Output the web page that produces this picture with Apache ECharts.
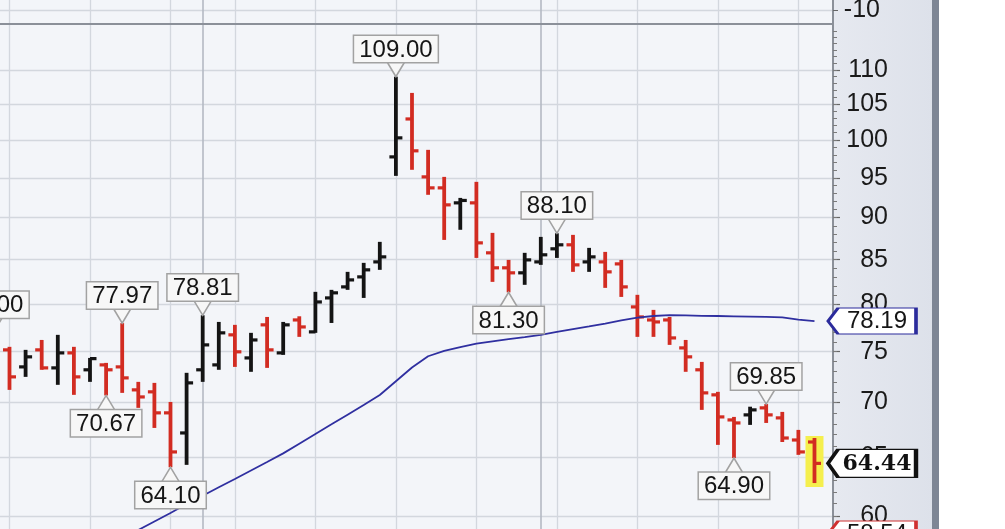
<!DOCTYPE html>
<html><head><meta charset="utf-8">
<script src="https://cdn.jsdelivr.net/npm/echarts@6/dist/echarts.min.js"></script>
<style>html,body{margin:0;padding:0;background:#fff}#c{width:1005px;height:529px}</style>
</head><body><div id="c"></div>
<script>
// ---- data ----
const barIndex = [-1,0,1,2,3,4,5,6,7,8,9,10,11,12,13,14,15,16,17,18,19,20,21,22,23,24,25,26,27,28,29,30,31,32,33,34,35,36,37,38,39,40,41,42,43,44,45,46,47,48,49,50];
const opens  = [72.60,75.19,73.47,75.19,73.37,74.88,73.18,73.67,73.47,71.21,71.02,69.02,67.16,73.18,73.67,76.74,74.37,77.79,74.88,78.31,77.05,80.69,81.91,83.03,84.74,97.74,102.91,95.12,93.71,91.82,91.82,85.79,84.06,83.49,84.74,86.26,86.73,84.74,84.74,84.51,79.71,78.31,78.31,75.39,73.18,70.73,68.36,68.83,69.49,68.55,66.52,66.34];
const highs  = [77.00,75.50,75.19,76.21,76.74,75.50,74.37,73.87,77.97,71.99,71.89,70.05,72.88,78.81,78.10,77.79,76.95,78.63,78.10,78.70,81.36,81.58,83.60,84.63,87.08,109.00,106.62,98.68,95.12,92.44,94.48,88.15,84.97,85.79,87.67,88.10,87.91,86.37,85.90,84.97,81.03,79.39,78.63,76.21,73.97,71.02,68.64,69.60,69.85,69.11,67.44,66.70];
const lows   = [71.90,71.21,72.48,73.18,71.70,70.73,71.99,70.67,70.92,69.49,67.62,64.10,64.31,71.99,73.18,73.47,72.98,73.37,74.68,76.53,76.95,77.99,81.58,80.69,83.83,95.25,96.04,92.83,87.31,88.52,85.20,82.47,81.30,82.14,84.40,85.20,83.60,83.60,81.80,80.80,76.53,76.53,75.70,72.98,69.30,66.08,64.90,67.90,68.08,66.34,65.19,62.74];
const closes = [73.36,72.48,74.48,73.37,74.88,72.48,74.30,73.18,72.38,70.53,69.02,65.45,71.89,75.70,76.95,74.99,76.21,75.19,77.79,77.57,80.25,81.25,82.69,83.83,85.32,100.30,98.55,93.71,91.57,92.12,86.96,84.06,83.49,84.97,85.56,86.73,84.40,85.32,83.60,81.91,78.63,78.10,76.42,74.48,70.92,68.64,68.08,69.30,68.83,66.70,65.45,64.44];

const maIndex  = [6,7,8,9,10,11,12,13,14,15,16,17,18,19,20,21,22,23,24,25,26,27,28,29,30,31,32,33,34,35,36,37,38,39,40,41,42,43,44,45,46,47,48,49,50];
const maValues = [57.53,58.18,58.86,59.55,60.24,60.98,61.67,62.38,63.09,63.82,64.56,65.32,66.19,67.07,67.95,68.85,69.76,70.72,72.05,73.41,74.54,75.08,75.47,75.82,76.07,76.29,76.51,76.74,77.04,77.33,77.62,77.93,78.26,78.56,78.73,78.83,78.79,78.75,78.73,78.70,78.67,78.64,78.58,78.35,78.19];

const highMarks = [-1,7,12,24,34,47];   // bar indices with a high callout
const lowMarks  = [6,10,31,45];         // bar indices with a low callout
const priceTicks = [60,65,70,75,80,85,90,95,100,105,110];
const minorTicks = [];
for (let v = 57; v <= 117; v++) minorTicks.push(v);
const topPanelTicks = [-10];
const weekLines  = [0,5,10,14,19,24,29,34,39,44,49];
const monthLines = [12,33];
const refLevel = 58.54;

// ---- layout ----
const XMIN = -1.832, XMAX = 51.15;
const YMIN = 57.36, YMAX = 116.93;
const RED = '#d22c22', BLACK = '#141414';
const FONT = 'Liberation Sans';

const pos = i => barIndex.indexOf(i);
const ohlc = barIndex.map((x, k) => [x, opens[k], highs[k], lows[k], closes[k]]);
const lastIdx = ohlc.length - 1;

const boxLabel = {
  show: true, distance: -1,
  formatter: p => Number(p.value).toFixed(2),
  fontFamily: FONT, fontSize: 24, lineHeight: 24, color: '#151515',
  backgroundColor: '#f7f7f7', borderColor: '#a2a2a2', borderWidth: 1.5,
  padding: [2, 5, 0, 5]
};
const pointerStyle = { color: '#f7f7f7', borderColor: '#a2a2a2', borderWidth: 1.5 };

const callouts = [];
highMarks.forEach(i => {
  const k = pos(i);
  callouts.push({ coord: [i, highs[k]], value: highs[k],
    symbol: 'path://M0,0L9,15L18,0Z', symbolSize: [18, 15], symbolOffset: [0, -7.5],
    itemStyle: pointerStyle, label: Object.assign({}, boxLabel, { position: 'top' }) });
});
lowMarks.forEach(i => {
  const k = pos(i);
  callouts.push({ coord: [i, lows[k]], value: lows[k],
    symbol: 'path://M0,15L9,0L18,15Z', symbolSize: [18, 15], symbolOffset: [0, 7.5],
    itemStyle: pointerStyle, label: Object.assign({}, boxLabel, { position: 'bottom' }) });
});
const TAG = 'path://M0,13L10,0L88,0L88,26L10,26Z';
callouts.push({ coord: [XMAX, maValues[maValues.length - 1]], value: maValues[maValues.length - 1],
  symbol: TAG, symbolSize: [88, 26], symbolOffset: [39, 0],
  itemStyle: { color: '#ffffff', borderColor: '#2b2b9c', borderWidth: 2 },
  label: { show: true, position: 'inside', offset: [5, 0], formatter: p => Number(p.value).toFixed(2),
    fontFamily: FONT, fontSize: 24, color: '#151515' } });
callouts.push({ coord: [XMAX, closes[lastIdx]], value: closes[lastIdx],
  symbol: TAG, symbolSize: [88, 28], symbolOffset: [39, 0],
  itemStyle: { color: '#ffffff', borderColor: '#111111', borderWidth: 2.5 },
  label: { show: true, position: 'inside', offset: [5, 1], formatter: p => Number(p.value).toFixed(2),
    fontFamily: 'DejaVu Serif', fontWeight: 'bold', fontSize: 22, color: '#111' } });
callouts.push({ coord: [XMAX, refLevel], value: refLevel,
  symbol: TAG, symbolSize: [88, 26], symbolOffset: [39, 0],
  itemStyle: { color: '#ffffff', borderColor: '#d03030', borderWidth: 2 },
  label: { show: true, position: 'inside', offset: [5, 0], formatter: p => Number(p.value).toFixed(2),
    fontFamily: FONT, fontSize: 24, color: '#151515' } });

const gridLine = { show: true, lineStyle: { color: '#d3d7de', width: 1.3 } };
const monthLine = { show: true, lineStyle: { color: '#b4b9c3', width: 1.6 } };
const hiddenX = (gi, ticks, split) => ({
  type: 'value', gridIndex: gi, min: XMIN, max: XMAX, position: 'bottom',
  axisLine: { show: false, onZero: false }, axisLabel: { show: false },
  axisTick: { show: false, customValues: ticks }, splitLine: split
});
const gridBase = { left: -20, right: 172, borderWidth: 0, outerBoundsMode: 'none', containLabel: false };

const chart = echarts.init(document.getElementById('c'), null, { renderer: 'canvas' });
chart.setOption({
  animation: false,
  backgroundColor: '#ffffff',
  graphic: [
    { type: 'rect', z: -10, shape: { x: 834, y: 0, width: 99, height: 529 },
      style: { fill: new echarts.graphic.LinearGradient(0, 0, 1, 0, [{ offset: 0, color: '#e6e9f0' }, { offset: 1, color: '#dde1ea' }]) } },
    { type: 'rect', z: -10, shape: { x: 932, y: 0, width: 7, height: 529 }, style: { fill: '#7e8695' } }
  ],
  grid: [
    Object.assign({ top: -25, height: 49, show: true, backgroundColor: '#f3f5f9' }, gridBase),
    Object.assign({ top: 25, height: 524, show: true, backgroundColor: '#f3f5f9' }, gridBase),
    Object.assign({ top: 25, height: 524, show: false }, gridBase)
  ],
  xAxis: [
    { type: 'value', gridIndex: 0, min: XMIN, max: XMAX, position: 'bottom',
      axisLine: { show: true, onZero: false, lineStyle: { color: '#8b9099', width: 2 } },
      axisLabel: { show: false }, axisTick: { show: false, customValues: weekLines }, splitLine: gridLine },
    hiddenX(1, weekLines, gridLine),
    hiddenX(0, monthLines, monthLine),
    hiddenX(1, monthLines, monthLine),
    hiddenX(2, [], { show: false })
  ],
  yAxis: [
    { type: 'value', gridIndex: 0, min: -14, max: 0, position: 'right',
      axisLine: { show: true, onZero: false, lineStyle: { color: '#8b9099', width: 2 } },
      axisTick: { show: true, length: 5, customValues: topPanelTicks, lineStyle: { color: '#666' } },
      axisLabel: { show: true, customValues: topPanelTicks, align: 'right', margin: 47,
        fontFamily: FONT, fontSize: 25, color: '#1a1a1a' },
      splitLine: gridLine },
    { type: 'log', gridIndex: 1, min: YMIN, max: YMAX, position: 'right',
      axisLine: { show: true, onZero: false, lineStyle: { color: '#8b9099', width: 2 } },
      axisTick: { show: true, length: 7, customValues: priceTicks, lineStyle: { color: '#666', width: 1.2 } },
      axisLabel: { show: true, customValues: priceTicks, align: 'right', margin: 55,
        fontFamily: FONT, fontSize: 25, color: '#1a1a1a', formatter: v => String(Math.round(v)) },
      splitLine: gridLine },
    { type: 'log', gridIndex: 2, min: YMIN, max: YMAX, position: 'right',
      axisLine: { show: false, onZero: false }, axisLabel: { show: false }, splitLine: { show: false },
      axisTick: { show: true, length: 4, customValues: minorTicks, lineStyle: { color: '#7a7a7a', width: 1 } } }
  ],
  series: [
    { type: 'line', xAxisIndex: 0, yAxisIndex: 0, data: [], silent: true },
    { type: 'custom', xAxisIndex: 1, yAxisIndex: 1, clip: true,
      encode: { x: 0, y: [1, 2, 3, 4] },
      data: ohlc,
      renderItem: function (params, api) {
        const x = api.value(0), o = api.value(1), h = api.value(2), l = api.value(3), c = api.value(4);
        const pH = api.coord([x, h]), pL = api.coord([x, l]);
        const pO = api.coord([x, o]), pC = api.coord([x, c]);
        const color = c < o ? RED : BLACK;
        const ch = [];
        if (params.dataIndex === lastIdx) {
          ch.push({ type: 'rect', shape: { x: pH[0] - 9, y: pH[1] - 2, width: 18, height: pL[1] - pH[1] + 6 },
            style: { fill: '#f5ef4e' } });
        }
        ch.push({ type: 'line', shape: { x1: pH[0], y1: pH[1], x2: pL[0], y2: pL[1] }, style: { stroke: color, lineWidth: 3.8 } });
        ch.push({ type: 'line', shape: { x1: pO[0] - 6.5, y1: pO[1], x2: pO[0], y2: pO[1] }, style: { stroke: color, lineWidth: 3.2 } });
        ch.push({ type: 'line', shape: { x1: pC[0], y1: pC[1], x2: pC[0] + 6.5, y2: pC[1] }, style: { stroke: color, lineWidth: 3.2 } });
        return { type: 'group', children: ch };
      }
    },
    { type: 'line', xAxisIndex: 1, yAxisIndex: 1, clip: true, silent: true,
      data: maIndex.map((x, k) => [x, maValues[k]]),
      showSymbol: false, symbol: 'none',
      lineStyle: { color: '#2f2fa0', width: 1.8 },
      markPoint: { silent: true, data: callouts }
    },
    { type: 'line', xAxisIndex: 4, yAxisIndex: 2, data: [], silent: true }
  ]
});
</script>
</body></html>
